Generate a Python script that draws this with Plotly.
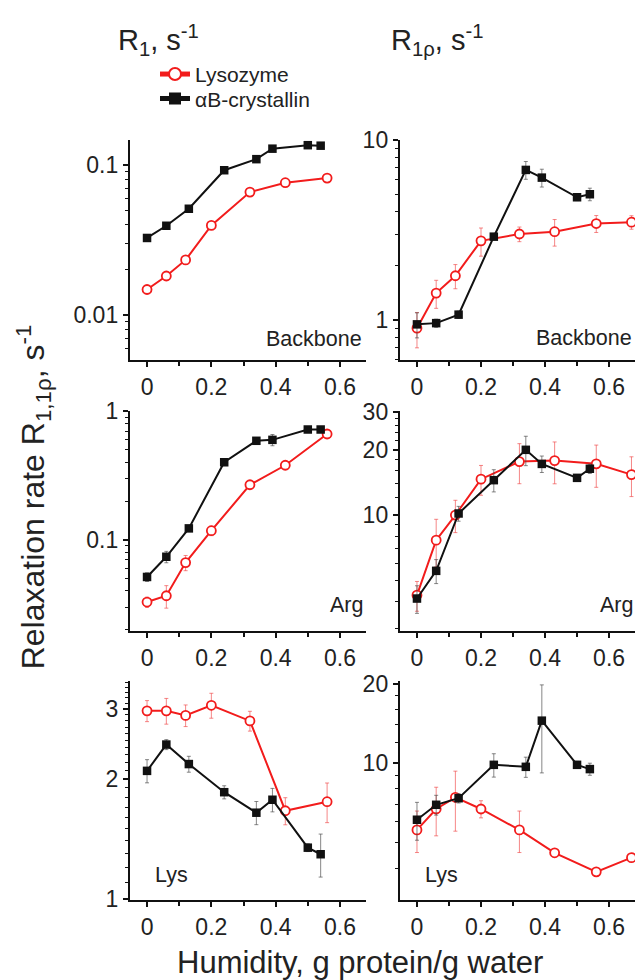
import plotly.graph_objects as go

# ---------------- data ----------------
x_lys_r1 = [0, 0.06, 0.12, 0.20, 0.32, 0.43, 0.56]
x_lys_r1rho = [0, 0.06, 0.12, 0.20, 0.32, 0.43, 0.56, 0.67]
x_cry = [0, 0.06, 0.13, 0.24, 0.34, 0.39, 0.50, 0.54]

bb_r1_lys = [0.0148, 0.0182, 0.0233, 0.0395, 0.0658, 0.076, 0.0816]
bb_r1_lys_err = [0.0008, 0.001, 0.0008, 0.002, 0.002, 0.001, 0.001]
bb_r1_cry = [0.0326, 0.0393, 0.051, 0.092, 0.109, 0.128, 0.135, 0.134]
bb_r1_cry_err = [0.001, 0.001, 0.001, 0.002, 0.002, 0.002, 0.002, 0.002]

bb_r1rho_lys = [0.90, 1.41, 1.76, 2.75, 3.00, 3.09, 3.43, 3.49]
bb_r1rho_lys_err = [0.2, 0.25, 0.27, 0.49, 0.28, 0.52, 0.37, 0.3]
bb_r1rho_cry = [0.945, 0.96, 1.07, 2.90, 6.81, 6.17, 4.80, 4.99]
bb_r1rho_cry_err = [0.15, 0.05, 0.05, 0.1, 0.77, 0.7, 0.2, 0.4]

arg_r1_lys = [0.0328, 0.0367, 0.0665, 0.1177, 0.268, 0.380, 0.665]
arg_r1_lys_err = [0.003, 0.0073, 0.009, 0.01, 0.01, 0.01, 0.02]
arg_r1_cry = [0.0514, 0.0738, 0.1227, 0.401, 0.589, 0.599, 0.721, 0.721]
arg_r1_cry_err = [0.004, 0.0075, 0.006, 0.015, 0.03, 0.06, 0.02, 0.02]

arg_r1rho_lys = [4.27, 7.66, 10.0, 14.64, 17.65, 17.84, 17.23, 15.37]
arg_r1rho_lys_err = [0.67, 1.9, 1.7, 2.3, 3.7, 3.9, 3.8, 3.2]
arg_r1rho_cry = [4.12, 5.53, 10.17, 14.49, 20.0, 17.22, 14.85, 16.36]
arg_r1rho_cry_err = [0.6, 0.7, 0.8, 1.7, 3.1, 1.5, 0.5, 0.8]

lys_r1_lys = [2.965, 2.965, 2.887, 3.061, 2.797, 1.665, 1.754]
lys_r1_lys_err = [0.18, 0.22, 0.18, 0.22, 0.16, 0.13, 0.2]
lys_r1_cry = [2.096, 2.44, 2.18, 1.853, 1.646, 1.774, 1.345, 1.295]
lys_r1_cry_err = [0.14, 0.07, 0.1, 0.07, 0.11, 0.12, 0.03, 0.16]

lys_r1rho_lys = [5.59, 6.71, 7.43, 6.71, 5.59, 4.58, 3.88, 4.39]
lys_r1rho_lys_err = [1.0, 1.4, 1.9, 0.5, 1.0, 0.15, 0.1, 0.15]
lys_r1rho_cry = [6.11, 6.96, 7.37, 9.86, 9.69, 14.49, 9.86, 9.50]
lys_r1rho_cry_err = [1.0, 0.6, 0.3, 1.0, 0.85, 5.3, 0.3, 0.5]

panel_labels = ["Backbone", "Backbone", "Arg", "Arg", "Lys", "Lys"]
x_ticks = [0, 0.2, 0.4, 0.6]
x_ticktext = ["0", "0.2", "0.4", "0.6"]

# ---------------- styling ----------------
W, H = 635, 980
RED = "#f21c1c"
BLACK = "#111111"
TXT = "#222222"
FONT = "Liberation Sans, Arial, sans-serif"


def px_x(p):
    return p / W


def px_y(p):
    return 1 - p / H


left_dom = [px_x(130), px_x(366)]
right_dom = [px_x(400), 1.0]
row_doms = [[px_y(356), px_y(130)], [px_y(634), px_y(408)], [px_y(910), px_y(685)]]

fig = go.Figure()

panels = [
    (x_lys_r1, bb_r1_lys, bb_r1_lys_err, x_cry, bb_r1_cry, bb_r1_cry_err),
    (x_lys_r1rho, bb_r1rho_lys, bb_r1rho_lys_err, x_cry, bb_r1rho_cry, bb_r1rho_cry_err),
    (x_lys_r1, arg_r1_lys, arg_r1_lys_err, x_cry, arg_r1_cry, arg_r1_cry_err),
    (x_lys_r1rho, arg_r1rho_lys, arg_r1rho_lys_err, x_cry, arg_r1rho_cry, arg_r1rho_cry_err),
    (x_lys_r1, lys_r1_lys, lys_r1_lys_err, x_cry, lys_r1_cry, lys_r1_cry_err),
    (x_lys_r1rho, lys_r1rho_lys, lys_r1rho_lys_err, x_cry, lys_r1rho_cry, lys_r1rho_cry_err),
]

for i, (xl, yl, el, xc, yc, ec) in enumerate(panels):
    n = i + 1
    xa = "x" if n == 1 else f"x{n}"
    ya = "y" if n == 1 else f"y{n}"
    fig.add_trace(go.Scatter(
        x=xl, y=yl, mode="lines+markers", name="Lysozyme",
        xaxis=xa, yaxis=ya, showlegend=(n == 1), legend="legend",
        line=dict(color=RED, width=2),
        marker=dict(symbol="circle", size=9, color="white",
                    line=dict(color=RED, width=1.8)),
        error_y=dict(type="data", array=el, visible=True, thickness=1,
                     width=2, color="rgba(240,70,70,0.65)"),
        cliponaxis=False,
    ))
    fig.add_trace(go.Scatter(
        x=xc, y=yc, mode="lines+markers", name="\u03b1B-crystallin",
        xaxis=xa, yaxis=ya, showlegend=(n == 1), legend="legend2",
        line=dict(color=BLACK, width=2),
        marker=dict(symbol="square", size=8.5, color=BLACK,
                    line=dict(color=BLACK, width=0)),
        error_y=dict(type="data", array=ec, visible=True, thickness=1,
                     width=2, color="rgba(70,70,70,0.65)"),
        cliponaxis=False,
    ))

# y axis specs: (range log10, tickvals, ticktext, minor tickvals)
y_specs = [
    ([-2.298, -0.833], [0.01, 0.1], ["0.01", "0.1"],
     [0.006, 0.007, 0.008, 0.009, 0.02, 0.03, 0.04, 0.05, 0.06, 0.07, 0.08, 0.09]),
    ([-0.222, 1.001], [1, 10], ["1", "10"],
     [0.6, 0.7, 0.8, 0.9, 2, 3, 4, 5, 6, 7, 8, 9]),
    ([-1.708, 0.005], [0.1, 1], ["0.1", "1"],
     [0.02, 0.03, 0.04, 0.05, 0.06, 0.07, 0.08, 0.09, 0.2, 0.3, 0.4, 0.5, 0.6, 0.7, 0.8, 0.9]),
    ([0.466, 1.482], [10, 20, 30], ["10", "20", "30"],
     [3, 4, 5, 6, 7, 8, 9, 12, 14, 16, 18, 22, 24, 26, 28]),
    ([-0.002, 0.548], [1, 2, 3], ["1", "2", "3"],
     [1.1, 1.2, 1.3, 1.4, 1.5, 1.6, 1.7, 1.8, 1.9, 2.1, 2.2, 2.3, 2.4, 2.5, 2.6, 2.7, 2.8, 2.9, 3.1, 3.2, 3.3, 3.4, 3.5]),
    ([0.483, 1.313], [10, 20], ["10", "20"],
     [4, 5, 6, 7, 8, 9, 12, 14, 16, 18]),
]

legend_common = dict(xanchor="left", yanchor="middle",
                     font=dict(size=21, color=TXT, family=FONT),
                     bgcolor="rgba(0,0,0,0)", borderwidth=0,
                     tracegroupgap=0, itemsizing="constant")

layout = dict(
    width=W, height=H, autosize=False,
    margin=dict(l=0, r=0, t=0, b=0, pad=0),
    paper_bgcolor="white", plot_bgcolor="white",
    font=dict(family=FONT, color=TXT, size=22),
    showlegend=True,
    legend=dict(x=px_x(155), y=px_y(63), **legend_common),
    legend2=dict(x=px_x(155), y=px_y(88), **legend_common),
)

for i in range(6):
    n = i + 1
    xk = "xaxis" if n == 1 else f"xaxis{n}"
    yk = "yaxis" if n == 1 else f"yaxis{n}"
    xa_ref = "y" if n == 1 else f"y{n}"
    ya_ref = "x" if n == 1 else f"x{n}"
    col = i % 2
    row = i // 2
    layout[xk] = dict(
        domain=left_dom if col == 0 else right_dom,
        anchor=xa_ref, range=[-0.053, 0.681],
        showline=True, linewidth=2.4, linecolor=BLACK,
        ticks="outside", ticklen=5, tickwidth=1.5, tickcolor=BLACK,
        tickvals=x_ticks, ticktext=x_ticktext,
        tickfont=dict(size=23, color=TXT),
        minor=dict(tickvals=[0.1, 0.3, 0.5], ticks="outside", ticklen=4,
                   tickwidth=1.5, tickcolor=BLACK),
        showgrid=False, zeroline=False, fixedrange=True,
    )
    rng, tv, tt, mv = y_specs[i]
    layout[yk] = dict(
        domain=row_doms[row], anchor=ya_ref, type="log", range=rng,
        showline=True, linewidth=2.4, linecolor=BLACK,
        ticks="outside", ticklen=5, tickwidth=1.5, tickcolor=BLACK,
        tickvals=tv, ticktext=tt,
        tickfont=dict(size=23, color=TXT),
        minor=dict(tickvals=mv, ticks="outside", ticklen=2.5,
                   tickwidth=1.2, tickcolor=BLACK),
        showgrid=False, zeroline=False, fixedrange=True,
    )

fig.update_layout(**layout)

annotations = []
# panel labels
label_pos = [
    (364, 335, "right"), (634, 333, "right"),
    (365, 607, "right"), (635, 607, "right"),
    (153, 885, "left"), (423, 885, "left"),
]
for (xp, yp, anc), txt in zip(label_pos, panel_labels):
    annotations.append(dict(text=txt, x=px_x(xp), y=px_y(yp), xref="paper", yref="paper",
                            xanchor=anc, yanchor="middle", showarrow=False,
                            font=dict(size=21.5, color=TXT, family=FONT)))

# column headers
annotations.append(dict(text="R<sub>1</sub>, s<sup>-1</sup>", x=px_x(116), y=px_y(28),
                        xref="paper", yref="paper", xanchor="left", yanchor="middle",
                        showarrow=False, font=dict(size=29, color=TXT, family=FONT)))
annotations.append(dict(text="R<sub>1\u03c1</sub>, s<sup>-1</sup>", x=px_x(389), y=px_y(28),
                        xref="paper", yref="paper", xanchor="left", yanchor="middle",
                        showarrow=False, font=dict(size=29, color=TXT, family=FONT)))
# axis titles
annotations.append(dict(text="Humidity, g protein/g water", x=px_x(360), y=px_y(974),
                        xref="paper", yref="paper", xanchor="center", yanchor="middle",
                        showarrow=False, font=dict(size=31, color=TXT, family=FONT)))
annotations.append(dict(text="Relaxation rate R<sub>1,1\u03c1</sub>, s<sup>-1</sup>",
                        x=px_x(33), y=px_y(497), textangle=-90,
                        xref="paper", yref="paper", xanchor="center", yanchor="middle",
                        showarrow=False, font=dict(size=32, color=TXT, family=FONT)))

fig.update_layout(annotations=annotations)

fig.write_html("out.html")
